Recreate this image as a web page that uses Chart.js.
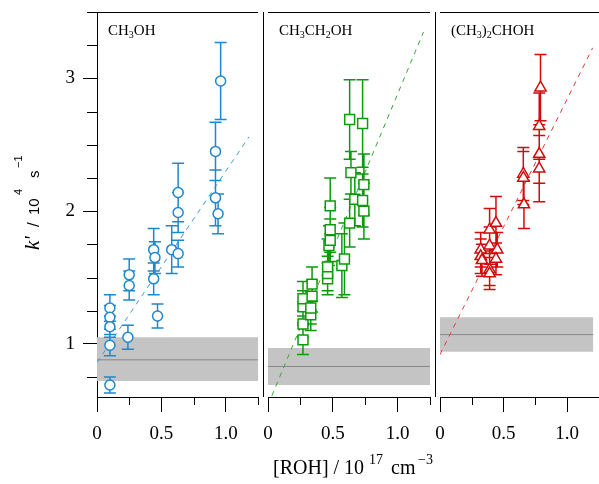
<!DOCTYPE html>
<html>
<head>
<meta charset="utf-8">
<script src="https://cdn.jsdelivr.net/npm/chart.js@4.4.1/dist/chart.umd.min.js"></script>
<style>
  body { margin: 0; background: #fff; }
  #wrap { position: relative; width: 599px; height: 484px; overflow: hidden; }
  #wrap canvas { position: absolute; left: 0; top: 0; }
</style>
</head>
<body>
<div id="wrap">
  <canvas id="p1" width="599" height="484"></canvas>
  <canvas id="p2" width="599" height="484"></canvas>
  <canvas id="p3" width="607" height="484"></canvas>
</div>
<script>
// CH3OH
const methX   = [0.10, 0.10, 0.10, 0.10, 0.10, 0.24, 0.25, 0.25, 0.44, 0.45, 0.44, 0.47, 0.58, 0.63, 0.63, 0.63, 0.92, 0.92, 0.94, 0.96];
const methY   = [1.27, 1.20, 1.13, 0.99, 0.69, 1.05, 1.52, 1.44, 1.71, 1.65, 1.49, 1.21, 1.71, 2.14, 1.99, 1.68, 2.45, 2.10, 1.98, 2.98];
const methErr = [0.10, 0.09, 0.08, 0.08, 0.06, 0.09, 0.12, 0.11, 0.16, 0.12, 0.12, 0.09, 0.18, 0.22, 0.15, 0.10, 0.22, 0.21, 0.15, 0.29];
const methFitX = [0, 1.18];
const methFitY = [0.86, 2.56];
const methBand = [0.72, 0.88, 1.05];   // low, mid, high
const methBandX = [0, 1.25];

// CH3CH2OH
const ethX   = [0.27, 0.27, 0.27, 0.27, 0.33, 0.33, 0.34, 0.34, 0.46, 0.46, 0.46, 0.47, 0.48, 0.48, 0.48, 0.57, 0.59, 0.63, 0.63, 0.64, 0.67, 0.73, 0.73, 0.74, 0.74];
const ethY   = [1.03, 1.15, 1.28, 1.34, 1.22, 1.27, 1.36, 1.45, 1.49, 1.53, 1.58, 1.74, 1.78, 1.86, 2.04, 1.59, 1.64, 1.91, 2.69, 2.29, 2.09, 2.66, 2.08, 2.00, 2.20];
const ethErr = [0.11, 0.10, 0.12, 0.13, 0.12, 0.12, 0.12, 0.13, 0.12, 0.13, 0.21, 0.15, 0.16, 0.17, 0.21, 0.24, 0.27, 0.18, 0.30, 0.16, 0.20, 0.33, 0.20, 0.21, 0.23];
const ethFitX = [0, 1.20];
const ethFitY = [0.54, 3.35];
const ethBand = [0.69, 0.83, 0.97];
const ethBandX = [0, 1.25];

// (CH3)2CHOH
const propX   = [0.32, 0.32, 0.33, 0.39, 0.39, 0.39, 0.39, 0.44, 0.45, 0.44, 0.655, 0.655, 0.66, 0.79, 0.78, 0.78, 0.78];
const propY   = [1.71, 1.66, 1.63, 1.86, 1.74, 1.56, 1.53, 1.91, 1.71, 1.64, 2.28, 2.25, 2.05, 2.93, 2.64, 2.43, 2.32];
const propErr = [0.13, 0.13, 0.12, 0.16, 0.14, 0.12, 0.12, 0.20, 0.13, 0.12, 0.20, 0.20, 0.18, 0.25, 0.25, 0.22, 0.25];
const propFitX = [0, 1.20];
const propFitY = [0.92, 3.23];
const propBand = [0.94, 1.07, 1.20];
const propBandX = [0, 1.205];

const xMajor = [0, 0.5, 1.0];
const xMajorLabels = ['0', '0.5', '1.0'];
const yMajor = [1, 2, 3];
const yMajorLabels = ['1', '2', '3'];

const serif = '"Liberation Serif", "Times New Roman", serif';
const sans = '"Liberation Sans", Arial, sans-serif';

const near = (a, b) => Math.abs(a - b) < 1e-6;
const isXMajor = v => xMajor.some(m => near(m, v));
const isYMajor = v => yMajor.some(m => near(m, v));

function pts(xs, ys) {
  return xs.map((x, i) => ({ x: x, y: ys[i] }));
}

// draws text pieces, each with its own font, offset and rise
function drawParts(ctx, parts) {
  let cx = 0;
  parts.forEach(p => {
    ctx.font = p.font;
    if (p.at !== undefined) cx = p.at;
    ctx.fillText(p.text, cx, -(p.rise || 0));
    cx += ctx.measureText(p.text).width;
  });
}

const errorBars = {
  id: 'errorBars',
  beforeDatasetDraw(chart, args) {
    const ds = chart.data.datasets[args.index];
    if (!ds.err) return;
    const ctx = chart.ctx;
    const xs = chart.scales.x, ys = chart.scales.y;
    ctx.save();
    ctx.strokeStyle = ds.borderColor;
    ctx.lineWidth = 1.5;
    ctx.beginPath();
    ds.data.forEach((p, i) => {
      const px = xs.getPixelForValue(p.x);
      const top = ys.getPixelForValue(p.y + ds.err[i]);
      const bot = ys.getPixelForValue(p.y - ds.err[i]);
      ctx.moveTo(px, top); ctx.lineTo(px, bot);
      ctx.moveTo(px - 6, top); ctx.lineTo(px + 6, top);
      ctx.moveTo(px - 6, bot); ctx.lineTo(px + 6, bot);
    });
    ctx.stroke();
    ctx.restore();
  }
};

function makeFrame(p) {
  return {
    id: 'frame',
    afterDraw(chart) {
      const ctx = chart.ctx;
      const a = chart.chartArea;
      const xs = chart.scales.x, ys = chart.scales.y;
      ctx.save();
      ctx.strokeStyle = '#000';
      ctx.lineWidth = 1;
      ctx.beginPath();
      ctx.moveTo(a.left, a.top + 0.5);
      ctx.lineTo(a.right, a.top + 0.5);
      if (p.gap) {
        const gx = Math.round(a.left - p.gap) + 0.5;
        ctx.moveTo(gx, a.top);
        ctx.lineTo(gx, a.bottom);
      }
      // minor ticks
      xs.ticks.forEach((t, i) => {
        if (isXMajor(t.value)) return;
        const px = Math.round(xs.getPixelForTick(i)) + 0.5;
        ctx.moveTo(px, a.bottom);
        ctx.lineTo(px, a.bottom + 8);
      });
      if (p.showY) {
        ys.ticks.forEach((t, i) => {
          if (isYMajor(t.value)) return;
          const py = Math.round(ys.getPixelForTick(i)) + 0.5;
          ctx.moveTo(a.left, py);
          ctx.lineTo(a.left - 10, py);
        });
      }
      ctx.stroke();

      ctx.fillStyle = '#000';
      ctx.textBaseline = 'alphabetic';
      ctx.textAlign = 'left';
      ctx.save();
      ctx.translate(a.left + 11, a.top + 23);
      drawParts(ctx, p.label);
      ctx.restore();

      if (p.yTitle) {
        ctx.save();
        ctx.translate(38.5, 250);
        ctx.rotate(-Math.PI / 2);
        drawParts(ctx, [
          { text: "k'", font: 'italic 21px ' + serif, at: 0 },
          { text: '/', font: '17px ' + sans, at: 23 },
          { text: '10', font: '15px ' + sans, at: 35 },
          { text: '4', font: '11px ' + sans, at: 55, rise: 17 },
          { text: 's', font: '15px ' + sans, at: 72 },
          { text: '\u22121', font: '11px ' + sans, at: 82, rise: 17 }
        ]);
        ctx.restore();
      }
      if (p.xTitle) {
        ctx.save();
        ctx.translate(0, 474);
        drawParts(ctx, [
          { text: '[ROH] / 10', font: '20px ' + serif, at: 273 },
          { text: '17', font: '14px ' + serif, at: 369, rise: 10 },
          { text: 'cm', font: '20px ' + serif, at: 391 },
          { text: '\u22123', font: '14px ' + serif, at: 418, rise: 10 }
        ]);
        ctx.restore();
      }
      ctx.restore();
    }
  };
}

function sub(t) { return { text: t, font: '10px ' + serif, rise: -3 }; }
function norm(t) { return { text: t, font: '15px ' + serif }; }

function makePanel(id, p) {
  const band = p.band, bx = p.bandX;
  return new Chart(document.getElementById(id), {
    type: 'scatter',
    data: {
      datasets: [
        { type: 'line', showLine: true, data: [{ x: bx[0], y: band[0] }, { x: bx[1], y: band[0] }],
          borderWidth: 0, pointRadius: 0, fill: false, order: 5 },
        { type: 'line', showLine: true, data: [{ x: bx[0], y: band[2] }, { x: bx[1], y: band[2] }],
          borderWidth: 0, pointRadius: 0, fill: '-1', backgroundColor: '#c4c4c4', order: 4 },
        { type: 'line', showLine: true, data: [{ x: bx[0], y: band[1] }, { x: bx[1], y: band[1] }],
          borderWidth: 1, borderColor: '#878787', pointRadius: 0, fill: false, order: 3 },
        { type: 'line', showLine: true, data: pts(p.fitX, p.fitY),
          borderWidth: 1, borderColor: p.dash, borderDash: [5, 5], pointRadius: 0, fill: false, order: 2 },
        { data: pts(p.x, p.y), err: p.err, pointStyle: p.style, pointRadius: p.radius,
          borderColor: p.color, backgroundColor: '#fff', borderWidth: 1.5, order: 1 }
      ]
    },
    plugins: [errorBars, makeFrame(p)],
    options: {
      responsive: false,
      animation: false,
      devicePixelRatio: 1,
      layout: { padding: { left: p.padLeft, right: p.padRight, top: 12, bottom: 0 } },
      plugins: {
        legend: { display: false },
        tooltip: { enabled: false }
      },
      scales: {
        x: {
          type: 'linear', min: 0, max: p.xMax,
          afterFit: s => { s.height = 87; s.paddingLeft = 0; s.paddingRight = 0; },
          border: { display: true, color: '#000', width: 1 },
          grid: { drawOnChartArea: false, drawTicks: true, tickLength: 15,
                  color: c => (c.tick && isXMajor(c.tick.value)) ? '#000' : 'rgba(0,0,0,0)' },
          ticks: {
            stepSize: 0.25, includeBounds: false, autoSkip: false, maxRotation: 0, padding: 11,
            color: '#000', font: { family: serif, size: 19 },
            callback: v => { const i = xMajor.findIndex(m => near(m, v)); return i < 0 ? '' : xMajorLabels[i]; }
          }
        },
        y: {
          type: 'linear', min: 0.6, max: 3.5, display: p.showY,
          afterFit: s => { s.width = p.showY ? 97 : 0; s.paddingTop = 0; s.paddingBottom = 0; },
          border: { display: true, color: '#000', width: 1 },
          grid: { drawOnChartArea: false, drawTicks: true, tickLength: 14,
                  color: c => (c.tick && isYMajor(c.tick.value)) ? '#000' : 'rgba(0,0,0,0)' },
          ticks: {
            stepSize: 0.25, includeBounds: false, autoSkip: false, padding: 8,
            color: '#000', font: { family: serif, size: 19 },
            callback: v => { const i = yMajor.findIndex(m => near(m, v)); return i < 0 ? '' : yMajorLabels[i]; }
          }
        }
      }
    }
  });
}

makePanel('p1', {
  x: methX, y: methY, err: methErr, fitX: methFitX, fitY: methFitY, band: methBand, bandX: methBandX,
  color: '#1f87cd', dash: '#3c9ddb', style: 'circle', radius: 5,
  padLeft: 0, padRight: 341, xMax: 1.25, showY: true, gap: 0, yTitle: true,
  label: [norm('CH'), sub('3'), norm('OH')]
});
makePanel('p2', {
  x: ethX, y: ethY, err: ethErr, fitX: ethFitX, fitY: ethFitY, band: ethBand, bandX: ethBandX,
  color: '#0a9a0a', dash: '#34aa34', style: 'rect', radius: 7,
  padLeft: 268, padRight: 169, xMax: 1.25, showY: false, gap: 5, xTitle: true,
  label: [norm('CH'), sub('3'), norm('CH'), sub('2'), norm('OH')]
});
makePanel('p3', {
  x: propX, y: propY, err: propErr, fitX: propFitX, fitY: propFitY, band: propBand, bandX: propBandX,
  color: '#d20a0a', dash: '#e03a3a', style: 'triangle', radius: 6.5,
  padLeft: 440, padRight: 0, xMax: 1.25, showY: false, gap: 5,
  label: [norm('(CH'), sub('3'), norm(')'), sub('2'), norm('CHOH')]
});
</script>
</body>
</html>
